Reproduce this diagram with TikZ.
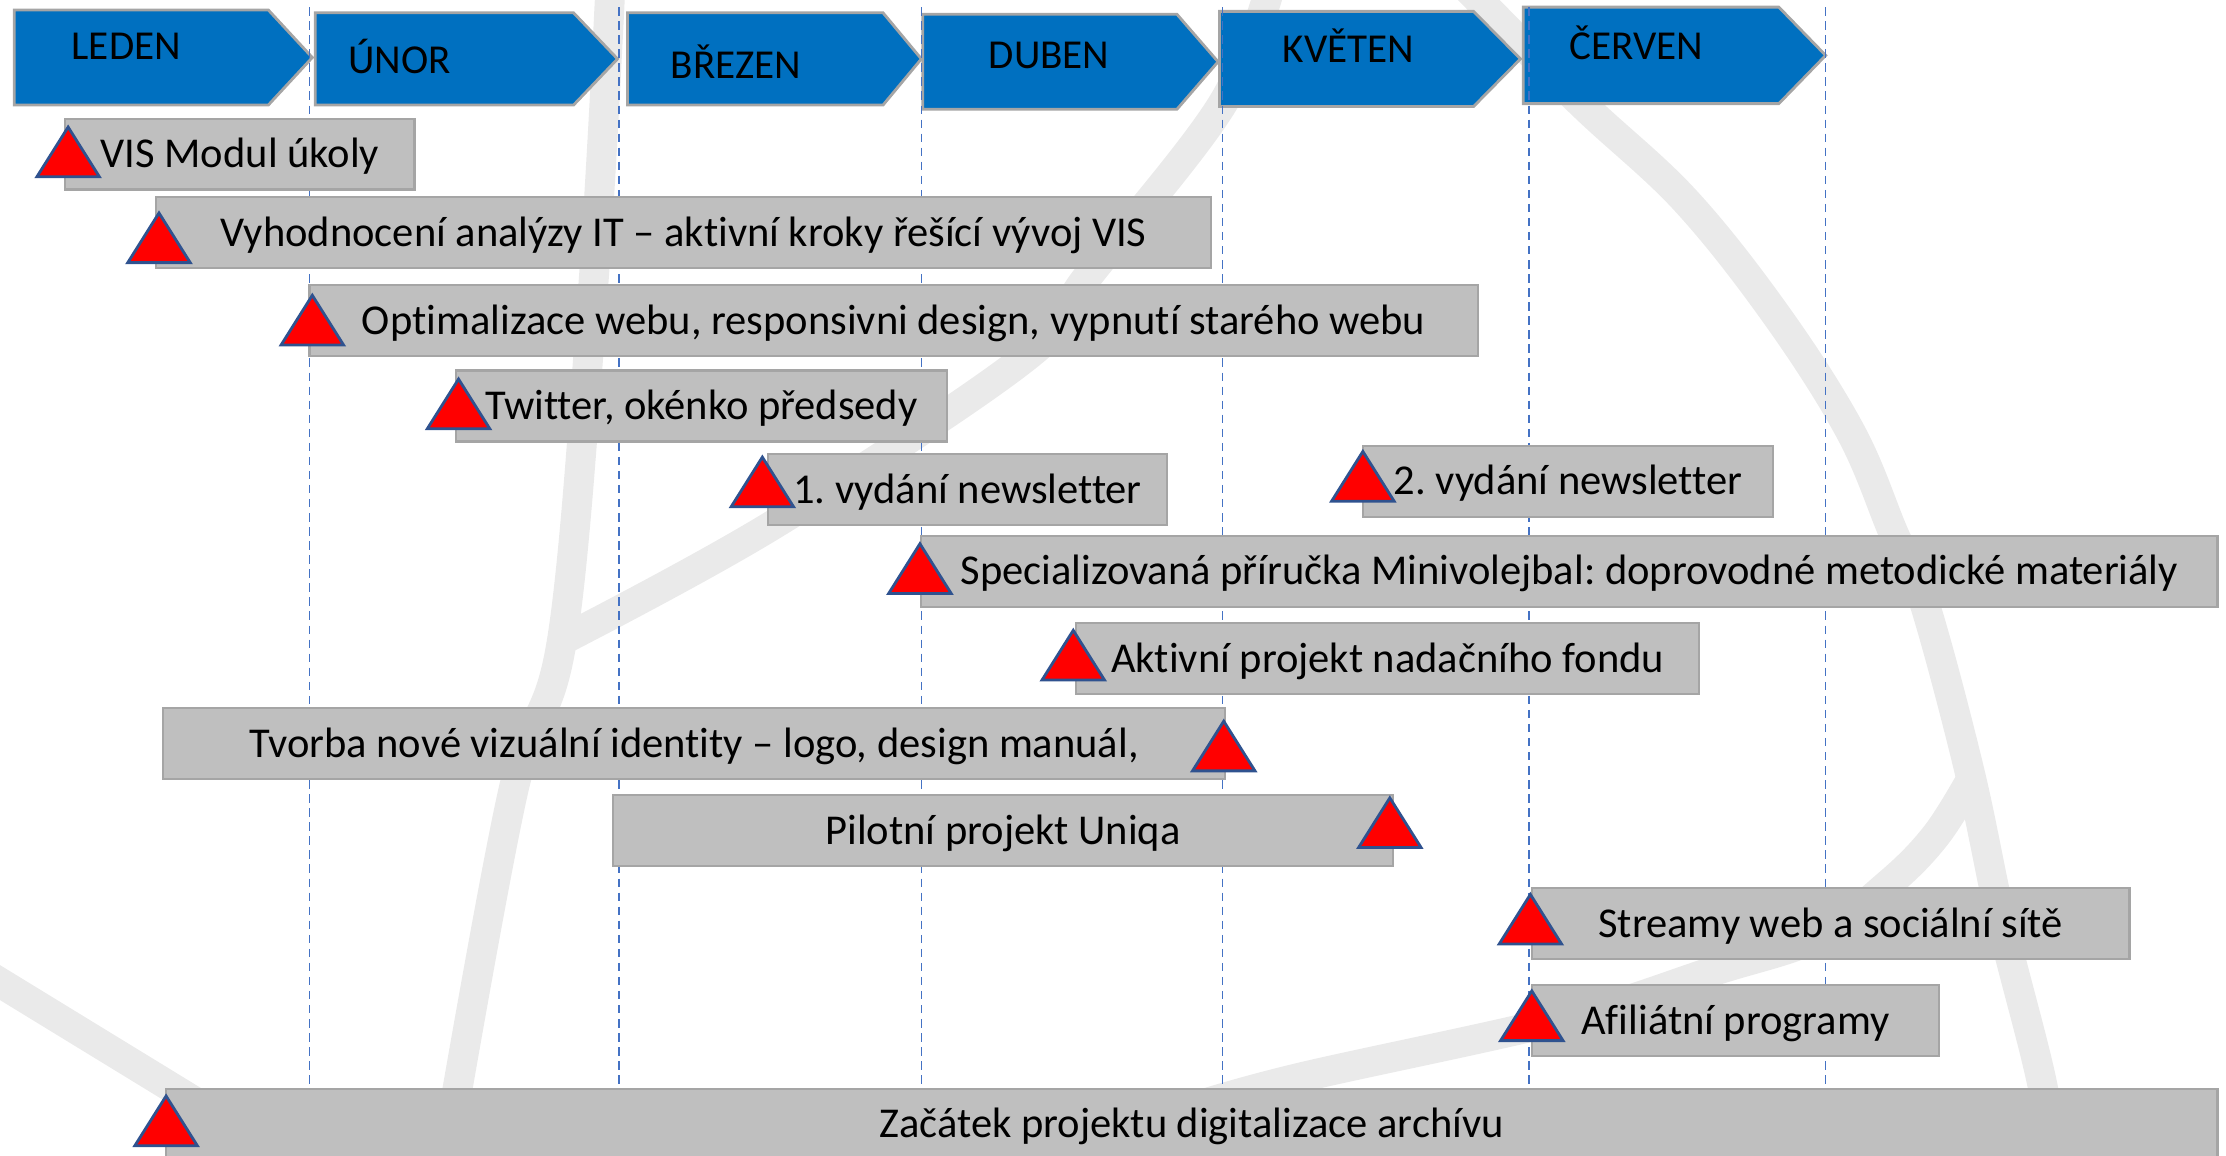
\documentclass[tikz,border=0pt]{standalone}
\usepackage{fontspec}
\setmainfont{Carlito}[Ligatures={TeX,NoCommon}]
\usetikzlibrary{calc}
\usepackage{xcolor}

\definecolor{monthblue}{RGB}{0,112,192}
\definecolor{monthedge}{RGB}{165,165,165}
\definecolor{barfill}{RGB}{191,191,191}
\definecolor{baredge}{RGB}{165,165,165}
\definecolor{gridblue}{RGB}{68,114,196}
\definecolor{tipedge}{RGB}{47,82,143}
\definecolor{logogray}{RGB}{234,234,234}

\tikzset{
  month/.style={fill=monthblue, draw=monthedge, line width=0.8pt, line join=miter},
  monthtext/.style={anchor=base west, inner sep=0pt, font=\fontsize{11.7}{13}\selectfont},
  bar/.style={fill=barfill, draw=baredge, line width=0.6pt, inner sep=0pt,
    minimum height=7.1mm, text height=3.2mm, text depth=0.5mm,
    font=\fontsize{12.1}{14}\selectfont},
  barw/.style={minimum width=#1*0.142mm},
  milestone/.style={fill=red, draw=tipedge, line width=0.8pt, line join=miter},
  monthline/.style={gridblue, line width=0.4pt, dash pattern=on 2.4pt off 1.6pt},
  logo/.style={logogray, line width=8.5pt}
}

\begin{document}
\frenchspacing
\begin{tikzpicture}[x=0.142mm, y=-0.142mm]
\useasboundingbox (0,0) rectangle (1568,814);
\clip (0,0) rectangle (1568,814);

% watermark
\draw[logo] plot[smooth, tension=0.6] coordinates {(430,-10) (418,200) (396,450) (362,555) (320,780)};
\draw[logo] plot[smooth, tension=0.6] coordinates {(394,452) (544,370) (722,252) (766,195) (860,75) (895,-10)};
\draw[logo] plot[smooth, tension=0.6] coordinates {(1030,-12) (1112,71) (1187,141) (1252,223) (1304,305) (1334,376) (1355,423) (1387,542) (1410,650) (1439,766) (1446,830)};
\draw[logo] plot[smooth, tension=0.6] coordinates {(1389,548) (1364,588) (1331,622) (1280,660) (1207,684) (1100,718) (916,759) (840,780)};
\draw[logo] (-10,686) -- (160,790);

% months
\foreach \xl/\xb/\xt/\yt/\yb in {10/189/220/7/74, 222/404/435/9/74, 442/622/649/9/74,
  650/829/858/10/77, 859/1038/1071/8/75, 1073/1253/1286/5/73}
  \draw[month] (\xl,\yt) -- (\xb,\yt) -- (\xt,{(\yt+\yb)/2}) -- (\xb,\yb) -- (\xl,\yb) -- cycle;
\node[monthtext] (leden) at (50,42) {LEDEN};
\node[monthtext] (unor) at (245,52) {ÚNOR};
\node[monthtext] (brezen) at (472,55) {BŘEZEN};
\node[monthtext] (duben) at (696,48.5) {DUBEN};
\node[monthtext] (kveten) at (903,44) {KVĚTEN};
\node[monthtext] (cerven) at (1105,41.6) {ČERVEN};

\foreach \x in {218,436,649,861,1077,1286}
  \draw[monthline] (\x,5) -- (\x,768);

% tasks
\node[bar, barw=246] (vis) at (169,108.5) {VIS Modul úkoly};
\node[bar, barw=743] (analyza) at (481.5,164) {Vyhodnocení analýzy IT – aktivní kroky řešící vývoj VIS};
\node[bar, barw=823] (web) at (629.5,226) {Optimalizace webu, responsivni design, vypnutí starého webu};
\node[bar, barw=346] (twitter) at (494,286) {Twitter, okénko předsedy};
\node[bar, barw=281] (news1) at (681.5,345) {1. vydání newsletter};
\node[bar, barw=289] (news2) at (1104.5,339) {2. vydání newsletter};
\node[bar, barw=913] (prirucka) at (1105.5,402.5) {Specializovaná příručka Minivolejbal: doprovodné metodické materiály};
\node[bar, barw=439] (fond) at (977.5,464) {Aktivní projekt nadačního fondu};
\node[bar, barw=748] (identita) at (489,524) {Tvorba nové vizuální identity – logo, design manuál,};
\node[bar, barw=549] (uniqa) at (706.5,585) {Pilotní projekt Uniqa};
\node[bar, barw=421] (streamy) at (1289.5,650.5) {Streamy web a sociální sítě};
\node[bar, barw=287] (afiliace) at (1222.5,719) {Afiliátní programy};
\node[bar, barw=1445] (archiv) at (839.5,792) {Začátek projektu digitalizace archívu};

% milestones
\foreach \x/\y in {48/89.5, 112/150, 220/208, 323/267, 537/322, 960/318, 648/383,
  756/444, 862/508, 979/562, 1078/630, 1079/698, 117/772}
  \draw[milestone] (\x,\y) -- ++(22,35) -- ++(-44,0) -- cycle;
\end{tikzpicture}
\end{document}
